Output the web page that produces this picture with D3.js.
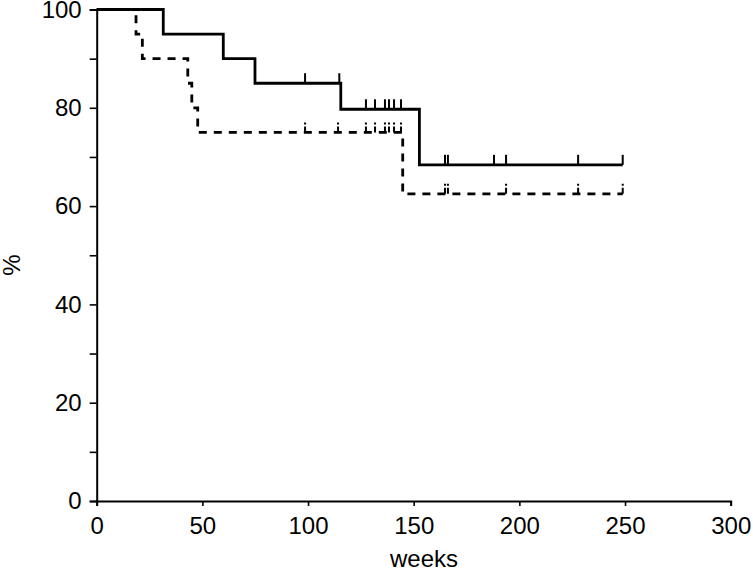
<!DOCTYPE html>
<html>
<head>
<meta charset="utf-8">
<script src="https://cdn.jsdelivr.net/npm/d3@7"></script>
<style>
  body { margin: 0; background: #fff; }
  svg { display: block; font-family: "Liberation Sans", Arial, Helvetica, sans-serif; }
</style>
</head>
<body>
<svg id="chart" width="753" height="571"></svg>
<script>
// Kaplan-Meier steps: [time (weeks), survival % after that time]
const solidSteps = [[0, 100], [31.5, 95], [59.9, 90], [74.9, 85], [115.5, 79.7], [152.7, 68.4]];
const solidEnd = 248.9;
const solidCensored = [98.6, 114.8, 127.4, 131.7, 136.4, 138.3, 140.7, 144.0, 164.8, 166.2, 188.0, 193.7, 227.8, 248.9];

const dashedSteps = [[0, 100], [18.6, 95], [21.6, 90], [43.1, 85], [45.0, 80], [47.8, 75], [144.8, 62.5]];
const dashedEnd = 248.9;
const dashedCensored = [98.6, 114.2, 127.4, 131.7, 136.4, 138.3, 140.7, 144.0, 164.8, 166.2, 193.7, 227.8, 248.9];

const xTicks = [0, 50, 100, 150, 200, 250, 300];
const yMajorTicks = [0, 20, 40, 60, 80, 100];
const yMinorTicks = [10, 30, 50, 70, 90];
const xLabel = "weeks";
const yLabel = "%";

const svg = d3.select("#chart");
const margin = {left: 96.7, top: 9.5, right: 22.3, bottom: 70};
const W = 753 - margin.left - margin.right;
const H = 571 - margin.top - margin.bottom;

const x = d3.scaleLinear().domain([0, 300]).range([0, W]);
const y = d3.scaleLinear().domain([0, 100]).range([H, 0]);

const g = svg.append("g").attr("transform", `translate(${margin.left},${margin.top})`);

// Axes
const xAxis = d3.axisBottom(x).tickValues(xTicks).tickSize(5).tickPadding(11).tickFormat(d3.format("d"));
const gx = g.append("g").attr("transform", `translate(0,${H})`).call(xAxis);

const yAxis = d3.axisLeft(y).tickValues(yMajorTicks).tickSize(7).tickPadding(8).tickFormat(d3.format("d"));
const gy = g.append("g").call(yAxis);
g.append("g").call(d3.axisLeft(y).tickValues(yMinorTicks).tickSize(7).tickFormat(""))
  .call(s => s.select(".domain").remove());

svg.selectAll(".domain").attr("stroke", "#000").attr("stroke-width", 2);
svg.selectAll(".tick line").attr("stroke", "#000").attr("stroke-width", 1.6);
svg.selectAll(".tick text").attr("font-size", 24).attr("fill", "#000")
   .attr("font-family", "'Liberation Sans', Arial, sans-serif");

// Curves
function stepPath(steps, end) {
  const pts = steps.map(d => [d[0], d[1]]);
  pts.push([end, steps[steps.length - 1][1]]);
  return d3.line().x(d => x(d[0])).y(d => y(d[1])).curve(d3.curveStepAfter)(pts);
}
function levelAt(steps, t) {
  let v = steps[0][1];
  for (const s of steps) if (s[0] <= t) v = s[1];
  return v;
}

const curves = [
  {steps: solidSteps, end: solidEnd, cens: solidCensored, dash: null},
  {steps: dashedSteps, end: dashedEnd, cens: dashedCensored, dash: "8,7"}
];

curves.forEach(c => {
  g.append("path")
    .attr("d", stepPath(c.steps, c.end))
    .attr("fill", "none")
    .attr("stroke", "#000")
    .attr("stroke-width", 2.8)
    .attr("stroke-dasharray", c.dash);
  g.selectAll(null).data(c.cens).enter().append("line")
    .attr("x1", d => x(d)).attr("x2", d => x(d))
    .attr("y1", d => y(levelAt(c.steps, d)))
    .attr("y2", d => y(levelAt(c.steps, d)) - 10)
    .attr("stroke", "#000")
    .attr("stroke-width", 2)
    .attr("stroke-dasharray", c.dash ? "6,2" : null);
});

// Axis titles
svg.append("text")
  .attr("x", 424).attr("y", 567)
  .attr("text-anchor", "middle")
  .attr("font-size", 24)
  .attr("fill", "#000")
  .text(xLabel);

svg.append("text")
  .attr("transform", "translate(20,265) rotate(-90)")
  .attr("text-anchor", "middle")
  .attr("font-size", 24)
  .attr("fill", "#000")
  .text(yLabel);
</script>
</body>
</html>
